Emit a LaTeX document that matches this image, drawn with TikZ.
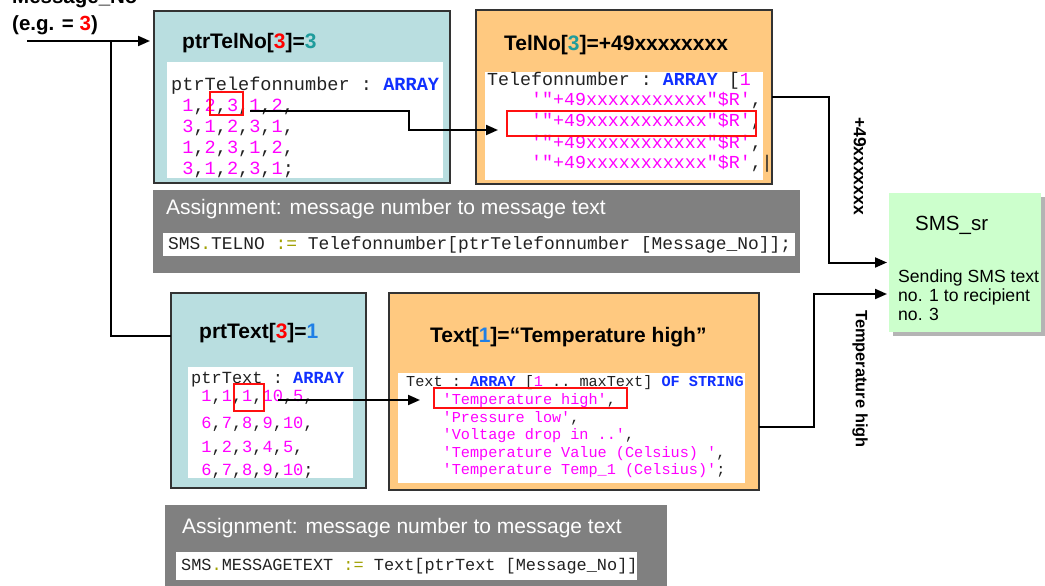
\documentclass[tikz,border=0pt]{standalone}
\usepackage{fontspec}
\setmainfont{Liberation Sans}
\setmonofont{Liberation Mono}
\usetikzlibrary{arrows.meta}

\definecolor{panelblue}{HTML}{B9DEE0}
\definecolor{panelorange}{HTML}{FFC980}
\definecolor{panelgray}{HTML}{808080}
\definecolor{smsgreen}{HTML}{CCFFCC}
\definecolor{shadowgray}{HTML}{B4B4B4}
\definecolor{framegray}{HTML}{333333}
\definecolor{codemag}{HTML}{FF00FF}
\definecolor{codekw}{HTML}{1030FF}
\definecolor{codetxt}{HTML}{222222}
\definecolor{codeop}{HTML}{A0A000}
\definecolor{idxred}{HTML}{FF0000}
\definecolor{idxteal}{HTML}{1E9C9C}
\definecolor{idxblue}{HTML}{1F7FE6}
\definecolor{markred}{HTML}{FF1010}

% code highlighting helpers
\newcommand\cmag[1]{\textcolor{codemag}{#1}}
\newcommand\ckw[1]{\textcolor{codekw}{\bfseries #1}}
\newcommand\cop[1]{\textcolor{codeop}{#1}}

\begin{document}
\begin{tikzpicture}[x=1pt,y=-1pt,
  panel/.style={draw=framegray, line width=1.3pt, anchor=north west, inner sep=0pt, outer sep=0pt},
  codearea/.style={fill=white, anchor=north west, inner sep=0pt, outer sep=0pt},
  redmark/.style={draw=markred, line width=1.6pt, anchor=north west, inner sep=0pt, outer sep=0pt},
  boxtitle/.style={font=\bfseries\fontsize{21}{25}\selectfont, anchor=base west, inner sep=0pt},
  graytitle/.style={font=\fontsize{21}{25}\selectfont, text=white, anchor=base west, inner sep=0pt},
  codeln/.style={font=\ttfamily\fontsize{#1}{#1}\selectfont, text=codetxt, anchor=base west, inner sep=0pt},
  plain/.style={anchor=base west, inner sep=0pt},
  sidelabel/.style={rotate=-90, anchor=center, inner sep=0pt},
  conn/.style={line width=2pt, draw=black},
  arr/.style={conn, -{Triangle[length=12pt,width=10pt]}}]

\useasboundingbox (0,0) rectangle (1045,586);
\clip (0,0) rectangle (1045,586);

% ---------- input value ----------
\node (msgname) [plain, font=\bfseries\fontsize{20.5}{24}\selectfont] at (12,3.5) {Message\_No};
\node (msgeg) [plain, font=\bfseries\fontsize{20.5}{24}\selectfont] at (12,31) {(e.g. = \textcolor{idxred}{3})};

% ---------- panels ----------
\node (ptrtel) [panel, fill=panelblue, minimum width=296pt, minimum height=172pt] at (154,11) {};
\node (telno) [panel, fill=panelorange, minimum width=296pt, minimum height=174pt] at (476,10) {};
\node (prttext) [panel, fill=panelblue, minimum width=195pt, minimum height=195pt] at (171,293) {};
\node (txtbox) [panel, fill=panelorange, minimum width=370pt, minimum height=197pt] at (389,293) {};
\node (gray1) [codearea, fill=panelgray, minimum width=647pt, minimum height=83pt] at (153,190) {};
\node (gray2) [codearea, fill=panelgray, minimum width=502pt, minimum height=90pt] at (165,505) {};
\node (smsshadow) [codearea, fill=shadowgray, minimum width=152pt, minimum height=139pt] at (893,197) {};
\node (sms) [codearea, fill=smsgreen, minimum width=152pt, minimum height=139pt] at (889,193) {};

% ---------- white code areas ----------
\node (ptrtelcode) [codearea, minimum width=276pt, minimum height=116pt] at (167,62) {};
\node (telnocode) [codearea, minimum width=278pt, minimum height=108pt] at (485,72) {};
\node (prttextcode) [codearea, minimum width=165pt, minimum height=111pt] at (188,367) {};
\node (txtcode) [codearea, minimum width=347pt, minimum height=110pt] at (398,373) {};
\node (gray1code) [codearea, minimum width=632pt, minimum height=23pt] at (163,233) {};
\node (gray2code) [codearea, minimum width=461pt, minimum height=28pt] at (176,552) {};

% ---------- titles ----------
\node (ttlptrtel) [boxtitle] at (182,49) {ptrTelNo[\textcolor{idxred}{3}]=\textcolor{idxteal}{3}};
\node (ttltelno) [boxtitle] at (504,51) {TelNo[\textcolor{idxteal}{3}]=+49xxxxxxxx};
\node (ttlprttext) [boxtitle] at (199,338) {prtText[\textcolor{idxred}{3}]=\textcolor{idxblue}{1}};
\node (ttltxt) [boxtitle] at (430,342) {Text[\textcolor{idxblue}{1}]=“Temperature high”};
\node (asg1) [graytitle] at (166,214) {Assignment: message number to message text};
\node (asg2) [graytitle] at (182,533) {Assignment: message number to message text};

% ---------- pointer table for phone numbers ----------
\node (pt1) [codeln=18.6] at (171,91) {ptrTelefonnumber : \ckw{ARRAY}};
\node (pt2) [codeln=18.6] at (171,112) {~\cmag{1},\cmag{2},\cmag{3},\cmag{1},\cmag{2},};
\node (pt3) [codeln=18.6] at (171,132.5) {~\cmag{3},\cmag{1},\cmag{2},\cmag{3},\cmag{1},};
\node (pt4) [codeln=18.6] at (171,153) {~\cmag{1},\cmag{2},\cmag{3},\cmag{1},\cmag{2},};
\node (pt5) [codeln=18.6] at (171,174) {~\cmag{3},\cmag{1},\cmag{2},\cmag{3},\cmag{1};};

% ---------- phone number table ----------
\node (tn1) [codeln=18.3] at (487,85) {Telefonnumber : \ckw{ARRAY} [\cmag{1}};
\node (tn2) [codeln=18.3] at (487,106) {~~~~\cmag{'"+49xxxxxxxxxxx"\$R'},};
\node (tn3) [codeln=18.3] at (487,127) {~~~~\cmag{'"+49xxxxxxxxxxx"\$R'},};
\node (tn4) [codeln=18.3] at (487,148) {~~~~\cmag{'"+49xxxxxxxxxxx"\$R'},};
\node (tn5) [codeln=18.3] at (487,168) {~~~~\cmag{'"+49xxxxxxxxxxx"\$R'},|};

% ---------- pointer table for texts ----------
\node (px1) [codeln=17] at (191,383) {ptrText : \ckw{ARRAY}};
\node (px2) [codeln=17] at (191,401) {~\cmag{1},\cmag{1},\cmag{1},\cmag{10},\cmag{5},};
\node (px3) [codeln=17] at (191,428) {~\cmag{6},\cmag{7},\cmag{8},\cmag{9},\cmag{10},};
\node (px4) [codeln=17] at (191,452) {~\cmag{1},\cmag{2},\cmag{3},\cmag{4},\cmag{5},};
\node (px5) [codeln=17] at (191,475) {~\cmag{6},\cmag{7},\cmag{8},\cmag{9},\cmag{10};};

% ---------- text table ----------
\node (tx1) [codeln=15.2] at (406,386) {Text : \ckw{ARRAY} [\cmag{1} .. maxText] \ckw{OF STRING}};
\node (tx2) [codeln=15.2] at (406,404) {~~~~\cmag{'Temperature high'},};
\node (tx3) [codeln=15.2] at (406,422) {~~~~\cmag{'Pressure low'},};
\node (tx4) [codeln=15.2] at (406,439) {~~~~\cmag{'Voltage drop in ..'},};
\node (tx5) [codeln=15.2] at (406,457) {~~~~\cmag{'Temperature Value (Celsius) '},};
\node (tx6) [codeln=15.2] at (406,474) {~~~~\cmag{'Temperature Temp\_1 (Celsius)'};};

% ---------- assignments ----------
\node (as1) [codeln=17.9] at (168,249) {SMS\cop{.}TELNO \cop{:=} Telefonnumber[ptrTelefonnumber [Message\_No]];};
\node (as2) [codeln=16.9] at (181,570) {SMS\cop{.}MESSAGETEXT \cop{:=} Text[ptrText [Message\_No]]};

% ---------- selected entries ----------
\node (rptr) [redmark, minimum width=33pt, minimum height=23pt] at (210,92) {};
\node (rtel) [redmark, minimum width=249pt, minimum height=25pt] at (507,111) {};
\node (rprt) [redmark, minimum width=30pt, minimum height=27pt] at (234,384) {};
\node (rtxt) [redmark, minimum width=193pt, minimum height=20pt] at (434,388) {};

% ---------- SMS block ----------
\node (smsname) [plain, font=\fontsize{20.5}{24}\selectfont] at (915,230) {SMS\_sr};
\node (smsd1) [plain, font=\fontsize{17.6}{20}\selectfont] at (898,282) {Sending SMS text};
\node (smsd2) [plain, font=\fontsize{17.6}{20}\selectfont] at (898,301) {no. 1 to recipient};
\node (smsd3) [plain, font=\fontsize{17.6}{20}\selectfont] at (898,320) {no. 3};

% ---------- connectors ----------
\coordinate (msgin) at (27,41);
\coordinate (msgsplit) at (111,41);
\coordinate (prtin) at (111,336);
\draw[arr, shorten >=4pt] (msgin) -- (msgin -| ptrtel.west);
\draw[conn] (msgsplit) |- (prttext.west |- prtin);

\coordinate (telsrc) at (250,111);
\coordinate (telbend) at (409,130);
\draw[arr, shorten >=9pt] (telsrc) -| (telbend) -- (telbend -| rtel.west);

\coordinate (smsbend1) at (829,180);
\draw[arr, shorten >=2pt] (telno.east) -| (smsbend1) |- (sms.west);

\coordinate (txtsrc) at (278,400);
\draw[arr, shorten >=14pt] (txtsrc) -- (txtsrc -| rtxt.west);

\coordinate (txtout) at (759,427);
\coordinate (smsbend2) at (814,360);
\coordinate (smsin2) at (889,294);
\draw[arr, shorten >=2pt] (txtout -| txtbox.east) -| (smsbend2) |- (smsin2 -| sms.west);

% ---------- connector labels ----------
\node (lblnum) [sidelabel, font=\bfseries\fontsize{17.5}{20}\selectfont] at (860,166) {+49xxxxxxx};
\node (lbltemp) [sidelabel, font=\bfseries\fontsize{16.4}{20}\selectfont] at (860,379) {Temperature high};

\end{tikzpicture}
\end{document}
